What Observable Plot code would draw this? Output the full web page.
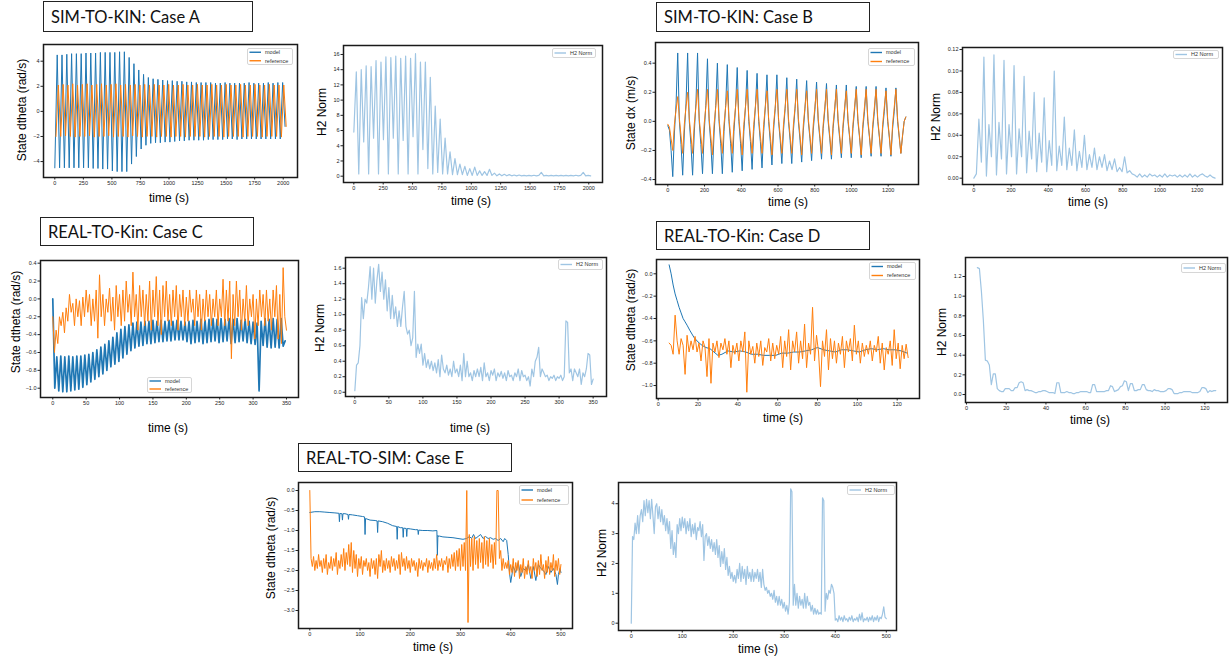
<!DOCTYPE html>
<html><head><meta charset="utf-8">
<script src="https://cdn.jsdelivr.net/npm/d3@7"></script>
<script src="https://cdn.jsdelivr.net/npm/@observablehq/plot@0.6"></script>
<style>
html,body{margin:0;padding:0;background:#fff;}
#wrap{position:relative;width:1229px;height:660px;overflow:hidden;background:#fff;}
.title{position:absolute;border:1.3px solid #222;box-sizing:border-box;font-family:Lato,"Open Sans",sans-serif;font-size:16.5px;font-weight:400;color:#111;padding-left:7px;display:flex;align-items:center;background:#fff;white-space:nowrap;}
.axlab{position:absolute;font-family:"Liberation Sans",Arial,sans-serif;font-size:12px;font-weight:400;color:#000;white-space:nowrap;line-height:1;}
</style></head><body><div id="wrap"></div><script>
// ---------------- DATA ----------------
// Case A (SIM-TO-KIN), uniform time step 21 s
const aStep = 21, aRefStart = 10;
const aModel = [-4.5,4.5,-4.5,4.5,-4.5,4.55,-4.5,4.6,-4.5,4.6,-4.5,4.6,-4.5,4.65,-4.5,4.65,-4.55,4.65,-4.55,4.7,-4.6,4.7,-4.6,4.7,-4.75,4.7,-4.8,4.75,-4.8,4.75,-4.8,4.3,-4.2,3.8,-3.6,3.3,-3.0,2.95,-2.7,2.7,-2.55,2.6,-2.5,2.55,-2.5,2.5,-2.45,2.45,-2.45,2.45,-2.4,2.4,-2.35,2.4,-2.35,2.35,-2.3,2.35,-2.3,2.3,-2.3,2.3,-2.3,2.3,-2.25,2.3,-2.25,2.25,-2.25,2.25,-2.25,2.3,-2.2,2.25,-2.2,2.25,-2.25,2.25,-2.2,2.25,-2.2,2.3,-2.2,2.25,-2.2,2.25,-2.2,2.25,-2.2,2.3,-2.2,2.25,-2.2,2.3,-2.2,2.3,-1.2];
const aRef = [-2.0,2.1,-2.0,2.15,-1.95,2.1,-2.0,2.2,-2.05,2.1,-2.0,2.15,-2.0,2.2,-1.95,2.1,-2.05,2.15,-2.0,2.2,-2.0,2.1,-1.95,2.15,-2.05,2.2,-2.0,2.1,-2.0,2.15,-2.05,2.1,-1.95,2.15,-2.0,2.1,-2.05,2.15,-2.0,2.1,-2.0,2.15,-2.05,2.1,-2.0,2.1,-2.0,2.15,-2.05,2.1,-2.0,2.1,-2.0,2.15,-2.05,2.1,-2.0,2.1,-2.0,2.15,-2.0,2.1,-2.05,2.1,-2.0,2.15,-2.0,2.1,-2.0,2.1,-2.05,2.15,-2.0,2.1,-2.0,2.1,-2.0,2.15,-2.05,2.1,-2.0,2.1,-2.0,2.15,-2.0,2.1,-2.05,2.1,-2.0,2.15,-2.0,2.1,-2.0,2.1,-2.05,2.1,-1.2];
const aH2 = [5.8,13.7,0.3,14.0,4.5,14.5,0.3,14.4,5.0,15.2,0.3,15.0,4.8,15.7,0.3,15.6,5.0,15.8,0.3,15.5,4.7,15.8,0.3,15.5,5.2,16.1,0.3,15.0,3.5,15.0,1.0,13.0,0.3,9.2,0.5,7.5,0.3,5.0,0.3,3.2,0.2,2.3,0.2,1.6,0.2,1.3,0.1,1.0,0.1,1.2,0.1,0.7,0.1,0.6,0.1,0.9,0.1,0.4,0.05,0.3,0.05,0.25,0.05,0.2,0.05,0.15,0.05,0.15,0.05,0.1,0.05,0.1,0.05,0.12,0.05,0.1,0.5,0.05,0.1,0.05,0.1,0.05,0.1,0.05,0.1,0.05,0.1,0.05,0.1,0.05,0.12,0.05,0.1,0.5,0.05,0.1,0.05];

// Case B (SIM-TO-KIN), uniform time step 9 s (state), 13.5 s (H2 norm)
const bStep = 9, bH2Step = 13.5;
const bModel = [-0.03,-0.06,-0.2,
-0.38,-0.08,0.12,0.47,0.0,-0.16, -0.37,-0.08,0.12,0.47,0.0,-0.16, -0.37,-0.08,0.12,0.47,0.0,-0.16,
-0.36,-0.08,0.11,0.43,0.0,-0.15, -0.36,-0.08,0.11,0.40,0.0,-0.15, -0.36,-0.07,0.11,0.39,0.0,-0.15,
-0.35,-0.07,0.10,0.37,0.0,-0.15, -0.34,-0.07,0.10,0.35,0.0,-0.14, -0.33,-0.07,0.10,0.33,0.0,-0.14,
-0.32,-0.07,0.10,0.32,0.0,-0.14, -0.30,-0.06,0.09,0.32,0.0,-0.13, -0.29,-0.06,0.09,0.30,0.0,-0.13,
-0.29,-0.06,0.09,0.29,0.0,-0.13, -0.28,-0.06,0.09,0.28,0.0,-0.12, -0.27,-0.06,0.08,0.27,0.0,-0.12,
-0.26,-0.05,0.08,0.26,0.0,-0.12, -0.26,-0.05,0.08,0.25,0.0,-0.12, -0.25,-0.05,0.08,0.25,0.0,-0.11,
-0.25,-0.05,0.08,0.24,0.0,-0.11, -0.25,-0.05,0.07,0.24,0.0,-0.11, -0.24,-0.05,0.07,0.24,0.0,-0.11,
-0.24,-0.05,0.07,0.23,0.0,-0.11, -0.24,-0.05,0.07,0.23,0.0,-0.11,
-0.22,-0.1,0.0,0.03];
const bRef = [-0.02,-0.04,-0.12,
-0.2,-0.02,0.08,0.17,0.02,-0.1, -0.22,-0.02,0.1,0.2,0.02,-0.1, -0.22,-0.02,0.1,0.22,0.02,-0.1,
-0.22,-0.02,0.1,0.22,0.02,-0.1, -0.23,-0.02,0.1,0.22,0.02,-0.1, -0.22,-0.02,0.1,0.21,0.02,-0.1,
-0.22,-0.02,0.1,0.22,0.02,-0.1, -0.23,-0.02,0.1,0.22,0.02,-0.1, -0.22,-0.02,0.1,0.22,0.02,-0.1,
-0.22,-0.02,0.1,0.21,0.02,-0.1, -0.23,-0.02,0.1,0.22,0.02,-0.1, -0.22,-0.02,0.1,0.22,0.02,-0.1,
-0.22,-0.02,0.1,0.22,0.02,-0.1, -0.23,-0.02,0.1,0.21,0.02,-0.1, -0.22,-0.02,0.1,0.22,0.02,-0.1,
-0.22,-0.02,0.1,0.22,0.02,-0.1, -0.23,-0.02,0.1,0.22,0.02,-0.1, -0.22,-0.02,0.1,0.21,0.02,-0.1,
-0.22,-0.02,0.1,0.22,0.02,-0.1, -0.23,-0.02,0.1,0.22,0.02,-0.1, -0.22,-0.02,0.1,0.22,0.02,-0.1,
-0.22,-0.02,0.1,0.21,0.02,-0.1, -0.23,-0.02,0.1,0.22,0.02,-0.1,
-0.22,-0.1,0.0,0.03];
const bH2 = [0.0,0.004,0.055,0.015, 0.113,0.002,0.05,0.02, 0.115,0.003,0.052,0.018, 0.11,0.004,0.05,0.02,
0.105,0.004,0.046,0.02, 0.095,0.005,0.044,0.018, 0.08,0.006,0.042,0.015, 0.075,0.006,0.035,0.012,
0.10,0.007,0.03,0.012, 0.057,0.008,0.028,0.012, 0.045,0.007,0.025,0.01, 0.04,0.008,0.022,0.01,
0.028,0.008,0.02,0.01, 0.022,0.007,0.016,0.008, 0.018,0.006,0.01,0.006, 0.02,0.005,0.007,0.004,
0.003,0.001,0.004,0.001, 0.003,0.001,0.004,0.002, 0.003,0.001,0.003,0.001, 0.004,0.001,0.003,0.002,
0.003,0.001,0.003,0.001, 0.003,0.001,0.004,0.001, 0.003,0.001,0.003,0.004, 0.002,0.001,0.003,0.001,0.0];

// Case C (REAL-TO-Kin)
const cModelStep = 3, cStep = 2.5;
const cModel = [0.0,-1.0, -0.65,-1.03, -0.64,-1.04, -0.65,-1.04, -0.64,-1.03, -0.65,-1.02, -0.64,-1.01, -0.64,-0.99,
-0.63,-0.96, -0.62,-0.93, -0.6,-0.9, -0.57,-0.87, -0.54,-0.84, -0.51,-0.8, -0.47,-0.76, -0.43,-0.73,
-0.38,-0.7, -0.34,-0.66, -0.31,-0.62, -0.29,-0.58, -0.27,-0.55, -0.26,-0.53, -0.26,-0.52, -0.25,-0.5,
-0.25,-0.5, -0.24,-0.49, -0.25,-0.48, -0.24,-0.48, -0.25,-0.47, -0.24,-0.47, -0.25,-0.46, -0.24,-0.46,
-0.25,-0.46, -0.26,-0.48, -0.25,-0.5, -0.24,-0.49, -0.25,-0.48, -0.23,-0.5, -0.24,-0.49, -0.23,-0.48,
-0.22,-0.47, -0.23,-0.49, -0.22,-0.48, -0.23,-0.47, -0.22,-0.5, -0.23,-0.49, -0.22,-0.48, -0.24,-0.47,
-0.23,-0.49, -0.25,-0.5, -0.26,-0.51, -0.27,-1.03, -0.25,-0.52, -0.22,-0.54, -0.23,-0.55, -0.22,-0.54,
-0.23,-0.55, -0.22,-0.53, -0.47];
const cRef = [-0.2,-0.6,-0.35,-0.5,-0.2,-0.3,-0.15,-0.38,-0.1,-0.25,
0.05,-0.15,-0.05,-0.3,0.0,-0.2,-0.02,-0.3,0.02,-0.2,
0.1,-0.15,0.05,-0.3,0.0,-0.25,0.1,-0.44,0.27,-0.2,
0.05,-0.3,0.0,-0.15,0.12,-0.25,0.02,-0.35,0.15,-0.2,
0.05,-0.3,0.1,-0.25,0.2,-0.15,0.05,-0.3,0.3,-0.2,
0.05,-0.35,0.15,-0.2,0.1,-0.3,0.05,-0.25,0.2,-0.35,
0.1,-0.2,0.25,-0.3,0.1,-0.4,0.15,-0.2,0.2,-0.25,
0.05,-0.3,0.1,-0.2,0.15,-0.35,0.05,-0.2,0.1,-0.3,
0.02,-0.25,0.1,-0.15,0.0,-0.3,0.1,-0.2,0.05,-0.35,
0.0,-0.25,0.1,-0.2,0.05,-0.3,0.0,-0.2,0.1,-0.3,
0.0,-0.2,0.22,-0.3,0.1,-0.25,0.2,-0.67,0.05,-0.3,
0.2,-0.2,0.1,-0.35,0.0,-0.25,0.15,-0.3,0.0,-0.2,
0.05,-0.45,0.0,-0.3,0.1,-0.2,0.05,-0.3,0.1,-0.25,
0.0,-0.35,0.1,-0.2,0.15,-0.45,0.05,-0.5,0.35,-0.2,
-0.35];
const cH2 = [0.02,0.35,0.38,0.6,1.22,0.95,1.2,1.15,1.35,1.62,
1.2,1.6,1.15,1.45,1.65,1.3,1.55,1.2,1.45,1.05,
1.35,0.95,1.25,0.95,1.1,0.85,1.05,0.85,1.1,1.3,
0.85,0.75,0.8,0.6,0.7,1.3,0.45,0.62,0.5,0.62,
0.35,0.5,0.32,0.42,0.3,0.4,0.28,0.38,0.25,0.42,
0.2,0.48,0.3,0.25,0.35,0.22,0.3,0.2,0.4,0.25,
0.3,0.2,0.35,0.15,0.5,0.2,0.4,0.2,0.25,0.15,
0.28,0.2,0.3,0.2,0.32,0.15,0.38,0.2,0.25,0.15,
0.28,0.22,0.3,0.15,0.25,0.2,0.27,0.18,0.25,0.15,
0.28,0.2,0.22,0.15,0.25,0.2,0.3,0.15,0.28,0.2,
0.22,0.15,0.2,0.08,0.3,0.2,0.4,0.45,0.58,0.2,
0.3,0.25,0.2,0.22,0.15,0.2,0.18,0.22,0.15,0.2,
0.18,0.22,0.15,0.2,0.92,0.9,0.25,0.3,0.15,0.3,
0.25,0.2,0.3,0.1,0.25,0.2,0.3,0.5,0.48,0.1,
0.17];

// Case D (REAL-TO-Kin)
const dStart = 5.5, dStep = 1;
const dModel = [[5.5,0.08],[6.5,0.0],[7.5,-0.1],[8.5,-0.18],[9.5,-0.24],[10.5,-0.3],[11.5,-0.35],[12.5,-0.4],[13.5,-0.43],[14.5,-0.46],
[16,-0.51],[18,-0.57],[20,-0.61],[22,-0.64],[24,-0.66],[26,-0.67],[28,-0.7],[30,-0.73],[32,-0.72],[35,-0.69],
[38,-0.7],[41,-0.69],[44,-0.7],[47,-0.72],[50,-0.72],[53,-0.73],[56,-0.73],[59,-0.73],[62,-0.71],[65,-0.71],
[68,-0.7],[71,-0.7],[74,-0.69],[77,-0.68],[80,-0.66],[83,-0.68],[86,-0.69],[89,-0.7],[92,-0.68],[95,-0.68],
[98,-0.69],[101,-0.7],[104,-0.68],[107,-0.67],[110,-0.68],[113,-0.67],[116,-0.68],[119,-0.68],[122,-0.69],[125,-0.71]];
const dRef = [-0.62,-0.64,-0.72,-0.37,-0.6,-0.72,-0.58,-0.64,-0.9,-0.55,
-0.7,-0.6,-0.68,-0.56,-0.7,-0.62,-0.78,-0.6,-0.66,-0.92,
-0.58,-0.98,-0.62,-0.7,-0.6,-0.75,-0.62,-0.68,-0.58,-0.72,
-0.6,-0.84,-0.64,-0.72,-0.62,-0.78,-0.6,-0.7,-0.52,-1.06,
-0.6,-0.72,-0.65,-0.8,-0.62,-0.74,-0.6,-0.82,-0.66,-0.7,
-0.58,-0.78,-0.62,-0.76,-0.64,-0.72,-0.56,-0.84,-0.6,-0.74,
-0.5,-0.86,-0.6,-0.7,-0.52,-0.8,-0.6,-0.76,-0.45,-0.84,
-0.62,-0.72,-0.3,-0.78,-0.55,-0.7,-1.01,-0.6,-0.74,-0.5,
-0.86,-0.58,-0.76,-0.6,-0.8,-0.62,-0.72,-0.56,-0.84,-0.6,
-0.7,-0.58,-0.78,-0.46,-0.72,-0.6,-0.8,-0.62,-0.74,-0.64,
-0.72,-0.6,-0.78,-0.64,-0.7,-0.56,-0.8,-0.62,-0.86,-0.66,
-0.72,-0.6,-0.82,-0.5,-0.76,-0.62,-0.85,-0.64,-0.76,-0.63,
-0.75];
const dH2 = [1.29,1.28,1.05,0.75,0.35,0.34,0.3,0.1,0.21,0.21,
0.06,0.04,0.03,0.03,0.06,0.06,0.06,0.04,0.04,0.07,
0.07,0.12,0.13,0.12,0.04,0.05,0.04,0.04,0.03,0.02,
0.02,0.03,0.03,0.04,0.04,0.03,0.02,0.02,0.02,0.01,
0.12,0.12,0.02,0.02,0.02,0.03,0.02,0.02,0.01,0.01,
0.02,0.02,0.03,0.03,0.03,0.03,0.02,0.02,0.1,0.1,
0.03,0.03,0.03,0.03,0.03,0.04,0.04,0.09,0.08,0.03,
0.04,0.05,0.08,0.09,0.14,0.13,0.04,0.11,0.11,0.04,
0.04,0.05,0.05,0.1,0.1,0.05,0.04,0.04,0.03,0.05,
0.04,0.04,0.03,0.03,0.03,0.04,0.06,0.06,0.05,0.01,
0.01,0.01,0.02,0.02,0.03,0.03,0.03,0.03,0.02,0.02,
0.02,0.02,0.03,0.07,0.07,0.06,0.02,0.04,0.03,0.04,
0.04];

// Case E (REAL-TO-SIM)
const eStep = 2.5;
const eModel = [[0,-0.55],[10,-0.53],[20,-0.53],[30,-0.54],[40,-0.55],[50,-0.56],[58,-0.57],[59,-0.78],[60,-0.57],[62,-0.58],
[64,-0.58],[65,-0.74],[66,-0.58],[70,-0.58],[76,-0.6],[77,-0.72],[78,-0.6],[85,-0.61],[95,-0.63],[105,-0.65],
[109,-0.66],[110,-1.1],[111,-0.7],[120,-0.74],[130,-0.75],[134,-0.76],[135,-1.05],[136,-0.76],[145,-0.78],[155,-0.82],
[165,-0.88],[173,-0.9],[174,-1.22],[175,-0.9],[180,-0.93],[185,-0.93],[186,-1.17],[187,-0.94],[192,-0.95],[193,-1.15],
[194,-0.95],[200,-0.96],[210,-0.98],[215,-0.98],[216,-1.1],[217,-0.99],[225,-1.0],[235,-1.0],[245,-1.01],[253,-1.0],
[254,-1.62],[255,-1.12],[256,-1.15],[258,-1.14],[265,-1.16],[275,-1.17],[285,-1.18],[295,-1.2],[305,-1.22],[312,-1.2],
[318,-1.15],[322,-1.2],[326,-1.1],[330,-1.2],[335,-1.15],[340,-1.1],[345,-1.2],[350,-1.15],[355,-1.2],[360,-1.18],
[365,-1.22],[370,-1.2],[375,-1.25],[380,-1.2],[385,-1.28],[388,-1.2],[392,-1.25],[395,-1.6],[398,-2.1],[400,-2.3],
[405,-1.9],[410,-2.05],[415,-1.8],[420,-2.15],[425,-1.95],[430,-2.0],[435,-1.85],[440,-2.2],[445,-1.9],[450,-2.25],
[455,-1.85],[460,-1.95],[465,-2.0],[470,-2.1],[475,-1.9],[480,-2.05],[485,-1.95],[490,-2.1],[493,-2.35],[495,-2.1],
[498,-1.95],[500,-2.05]];
const eRef = [0.0,-1.7,-1.9,-1.65,-2.0,-1.75,-1.95,-1.6,-1.9,-1.75,
-2.05,-1.7,-1.95,-1.6,-2.1,-1.8,-1.95,-1.65,-2.0,-1.7,
-1.9,-1.55,-2.1,-1.75,-1.95,-1.6,-1.9,-1.45,-2.0,-1.55,
-1.85,-1.35,-1.9,-1.3,-2.05,-1.5,-1.95,-1.6,-2.15,-1.7,
-1.95,-1.65,-2.1,-1.75,-1.9,-1.7,-2.0,-1.8,-2.15,-1.7,
-1.95,-1.75,-2.1,-1.7,-2.2,-1.6,-1.9,-1.5,-2.05,-1.75,
-2.0,-1.7,-1.95,-1.75,-2.05,-1.65,-1.9,-1.7,-2.0,-1.75,
-1.95,-1.6,-2.1,-1.55,-1.9,-1.7,-2.0,-1.65,-1.95,-1.75,
-2.05,-1.7,-1.9,-1.75,-2.0,-1.8,-2.15,-1.7,-1.95,-1.75,
-2.0,-1.8,-1.9,-1.7,-2.05,-1.75,-1.95,-1.8,-2.0,-1.7,
-1.95,-1.6,-2.0,-1.75,-1.9,-1.7,-2.0,-1.75,-1.85,-1.65,
-2.05,-1.7,-1.95,-1.6,-1.9,-1.55,-2.0,-1.5,-1.9,-1.45,
-2.0,-1.35,-1.9,-1.3,-2.0,0.0,-3.3,-1.1,-1.9,-1.2,
-2.0,-1.15,-1.85,-1.25,-1.95,-1.2,-1.8,-1.3,-1.95,-1.15,
-1.85,-1.25,-1.9,-1.2,-1.8,-1.35,-1.95,-1.3,-1.85,0.0,
0.0,-1.7,-1.5,-2.0,-1.7,-1.95,-1.8,-1.95,-1.75,-2.1,
-1.85,-2.05,-1.7,-2.15,-1.8,-2.0,-1.75,-2.2,-1.85,-2.05,
-1.7,-2.2,-1.9,-2.1,-1.75,-2.05,-1.9,-2.2,-1.7,-2.0,
-1.8,-2.15,-1.75,-2.1,-1.6,-2.0,-1.85,-2.2,-1.75,-2.05,
-1.65,-2.1,-1.8,-2.0,-1.6,-2.15,-1.75,-2.0,-1.7,-2.1,
-1.85];
const eH2 = [0.0,2.9,2.8,3.35,3.0,3.6,3.0,3.6,3.8,3.4,
4.1,3.6,4.15,3.7,4.1,3.5,4.15,3.6,3.0,3.9,
4.0,3.5,3.9,3.4,3.8,3.3,3.6,3.1,3.5,3.0,
3.4,2.5,3.1,2.3,2.7,2.2,3.3,3.0,3.5,3.1,
3.55,3.2,3.5,3.0,3.4,3.1,3.5,2.9,3.3,3.0,
3.35,2.8,3.2,3.1,3.4,2.9,3.3,2.1,2.9,3.0,
2.6,2.9,2.5,2.8,2.4,2.7,2.3,2.8,2.2,2.6,
1.9,2.4,2.0,2.5,1.8,2.2,1.6,1.9,1.5,1.7,
1.4,1.6,1.35,1.8,1.5,2.0,1.4,1.9,1.5,1.8,
1.3,1.9,1.5,1.7,1.4,1.8,1.4,1.7,1.5,1.8,
1.4,1.7,1.2,1.8,1.3,1.1,1.2,1.0,1.1,0.9,
1.0,0.8,1.1,0.7,0.9,0.6,0.9,0.6,0.8,0.5,
0.7,0.4,0.6,0.3,0.7,4.5,4.4,0.6,1.3,0.6,
1.0,0.5,0.9,0.6,0.8,0.5,1.0,0.5,0.9,0.6,
0.7,0.4,0.6,0.3,0.5,0.3,0.45,0.3,0.35,0.3,
4.2,4.1,0.4,1.0,0.8,1.1,1.0,1.3,1.2,1.0,
0.1,0.15,0.05,0.25,0.1,0.2,0.05,0.25,0.1,0.15,
0.05,0.2,0.1,0.25,0.05,0.15,0.1,0.2,0.05,0.3,
0.1,0.35,0.05,0.15,0.1,0.2,0.05,0.2,0.1,0.25,
0.05,0.2,0.1,0.25,0.05,0.2,0.15,0.3,0.55,0.2,
0.15];

// Tick values
const ticksA = [0,250,500,750,1000,1250,1500,1750,2000];
const ticksB = [0,200,400,600,800,1000,1200];
const ticksC = [0,50,100,150,200,250,300,350];
const ticksD = [0,20,40,60,80,100,120];
const ticksE = [0,100,200,300,400,500];
const yTicksA = [-4,-2,0,2,4], yTicksAH = [0,2,4,6,8,10,12,14,16];
const yTicksB = [-0.4,-0.2,0,0.2,0.4], yTicksBH = [0,0.02,0.04,0.06,0.08,0.10,0.12];
const yTicksC = [-1.0,-0.8,-0.6,-0.4,-0.2,0,0.2,0.4], yTicksCH = [0,0.2,0.4,0.6,0.8,1.0,1.2,1.4,1.6];
const yTicksD = [-1.0,-0.8,-0.6,-0.4,-0.2,0], yTicksDH = [0,0.2,0.4,0.6,0.8,1.0,1.2];
const yTicksE = [-3.0,-2.5,-2.0,-1.5,-1.0,-0.5,0], yTicksEH = [0,1,2,3,4];

// ---------------- DRAWING ----------------
const BLUE = "#1f77b4", ORANGE = "#ff7f0e", LIGHT = "#9fc5e3";
const wrap = document.getElementById("wrap");
const fmt = n => d => (d < -1e-9 ? "\u2212" : "") + Math.abs(d).toFixed(n);
const TICKFONT = '"Liberation Sans Narrow","Liberation Sans",sans-serif';
const ML = 40, MR = 6, MT = 6, MB = 16;

function uni(vals, t0, dt) { return {data: vals, x: (d, i) => t0 + i * dt, y: d => d}; }
function pairs(vals) { return {data: vals, x: d => d[0], y: d => d[1]}; }

function axisLabel(text, cx, cy, rotated) {
  const d = document.createElement("div");
  d.className = "axlab";
  d.textContent = text;
  d.style.left = cx + "px"; d.style.top = cy + "px";
  d.style.transform = "translate(-50%,-50%)" + (rotated ? " rotate(-90deg)" : "");
  wrap.appendChild(d);
}

function panel(p) {
  const fw = p.fx[1] - p.fx[0], fh = p.fy[1] - p.fy[0];
  const marks = [];
  for (const s of p.series) {
    marks.push(Plot.line(s.data, {x: s.x, y: s.y, stroke: s.color, strokeWidth: s.w || 1, clip: true}));
  }
  marks.push(Plot.frame({stroke: "#1a1a1a", strokeWidth: 1.5}));
  const svg = Plot.plot({
    width: fw + ML + MR, height: fh + MT + MB,
    marginLeft: ML, marginRight: MR, marginTop: MT, marginBottom: MB,
    x: {domain: p.xd, ticks: p.xt, tickFormat: p.xf || fmt(0), tickSize: 2.5, tickPadding: 1.5, label: null},
    y: {domain: p.yd, ticks: p.yt, tickFormat: p.yf || fmt(0), tickSize: 2.5, tickPadding: 1.5, label: null},
    style: {background: "transparent", overflow: "visible", fontSize: "5.5px", fontFamily: TICKFONT, color: "#222"},
    marks
  });
  svg.style.position = "absolute";
  svg.style.left = (p.fx[0] - ML) + "px";
  svg.style.top = (p.fy[0] - MT) + "px";
  wrap.appendChild(svg);
  axisLabel(p.xlabel, p.xl[0], p.xl[1], false);
  axisLabel(p.ylabel, p.yl[0], p.yl[1], true);
}

function legend(box, items) {
  const w = box[2] - box[0], h = box[3] - box[1];
  let s = `<svg width="${w}" height="${h}" style="position:absolute;left:${box[0]}px;top:${box[1]}px;overflow:visible">`;
  s += `<rect x="0.5" y="0.5" width="${w - 1}" height="${h - 1}" rx="1.5" fill="white" fill-opacity="0.85" stroke="#cccccc" stroke-width="0.8"/>`;
  items.forEach((it, k) => {
    const cy = h / items.length * (k + 0.5);
    s += `<line x1="2.5" x2="14" y1="${cy}" y2="${cy}" stroke="${it.color}" stroke-width="1.4"/>`;
    s += `<text x="18" y="${cy}" dy="0.35em" font-size="5.5" font-family='${TICKFONT}' fill="#333">${it.label}</text>`;
  });
  wrap.insertAdjacentHTML("beforeend", s + "</svg>");
}

function title(box, text) {
  const d = document.createElement("div");
  d.className = "title";
  d.style.left = box[0] + "px"; d.style.top = box[1] + "px";
  d.style.width = (box[2] - box[0]) + "px"; d.style.height = (box[3] - box[1]) + "px";
  d.textContent = text;
  wrap.appendChild(d);
}

const ML2 = [{label: "model", color: BLUE}, {label: "reference", color: ORANGE}];
const HL = [{label: "H2 Norm", color: LIGHT}];
const TS = "time (s)";

// Case A
panel({fx: [43, 297], fy: [44, 177], xd: [-99, 2125], yd: [-5.27, 5.33], xt: ticksA, yt: yTicksA,
  series: [{...uni(aModel, 0, aStep), color: BLUE}, {...uni(aRef, aRefStart, aStep), color: ORANGE}],
  xlabel: TS, xl: [169, 198], ylabel: "State dtheta (rad/s)", yl: [22, 110]});
panel({fx: [343, 602], fy: [45, 182], xd: [-88, 2117], yd: [-0.83, 17.18], xt: ticksA, yt: yTicksAH,
  series: [{...uni(aH2, 0, aStep), color: LIGHT, w: 1.2}],
  xlabel: TS, xl: [471, 201], ylabel: "H2 Norm", yl: [322, 112]});
// Case B
panel({fx: [655, 918], fy: [42, 184], xd: [-67, 1365], yd: [-0.434, 0.542], xt: ticksB, yt: yTicksB, yf: fmt(1),
  series: [{...uni(bModel, 0, bStep), color: BLUE}, {...uni(bRef, 0, bStep), color: ORANGE}],
  xlabel: TS, xl: [788, 202], ylabel: "State dx (m/s)", yl: [631, 113]});
panel({fx: [962, 1222], fy: [47, 184], xd: [-61, 1336], yd: [-0.0059, 0.1219], xt: ticksB, yt: yTicksBH, yf: fmt(2),
  series: [{...uni(bH2, 0, bH2Step), color: LIGHT, w: 1.2}],
  xlabel: TS, xl: [1088, 202], ylabel: "H2 Norm", yl: [936, 117]});
// Case C
panel({fx: [40, 298], fy: [260, 397], xd: [-18.4, 368], yd: [-1.104, 0.43], xt: ticksC, yt: yTicksC, yf: fmt(1),
  series: [{...uni(cModel, 0, cModelStep), color: BLUE, w: 1.7}, {...uni(cRef, 0, cStep), color: ORANGE}],
  xlabel: TS, xl: [168, 428], ylabel: "State dtheta (rad/s)", yl: [16, 322]});
panel({fx: [345, 606], fy: [257, 396], xd: [-13.7, 369.6], yd: [-0.055, 1.738], xt: ticksC, yt: yTicksCH, yf: fmt(1),
  series: [{...uni(cH2, 0, cStep), color: LIGHT, w: 1.2}],
  xlabel: TS, xl: [470, 428], ylabel: "H2 Norm", yl: [320, 328]});
// Case D
panel({fx: [656, 919], fy: [259, 398], xd: [-0.85, 131.2], yd: [-1.116, 0.128], xt: ticksD, yt: yTicksD, yf: fmt(1),
  series: [{...pairs(dModel), color: BLUE}, {...uni(dRef, dStart, dStep), color: ORANGE}],
  xlabel: TS, xl: [783, 418], ylabel: "State dtheta (rad/s)", yl: [631, 320]});
panel({fx: [965, 1227], fy: [257, 402], xd: [-0.5, 131.4], yd: [-0.081, 1.393], xt: ticksD, yt: yTicksDH, yf: fmt(1),
  series: [{...uni(dH2, dStart, dStep), color: LIGHT, w: 1.2}],
  xlabel: TS, xl: [1090, 420], ylabel: "H2 Norm", yl: [942, 332]});
// Case E
panel({fx: [298, 572], fy: [482, 628], xd: [-22.5, 523], yd: [-3.45, 0.2], xt: ticksE, yt: yTicksE, yf: fmt(1),
  series: [{...pairs(eModel), color: BLUE}, {...uni(eRef, 0, eStep), color: ORANGE}],
  xlabel: TS, xl: [433, 647], ylabel: "State dtheta (rad/s)", yl: [271, 548]});
panel({fx: [618, 896], fy: [482, 630], xd: [-25, 520], yd: [-0.245, 4.71], xt: ticksE, yt: yTicksEH,
  series: [{...uni(eH2, 0, eStep), color: LIGHT, w: 1.2}],
  xlabel: TS, xl: [758, 649], ylabel: "H2 Norm", yl: [602, 553]});

// Legends
legend([247, 48, 293, 65], ML2);
legend([552, 48, 596, 58], HL);
legend([868, 48, 915, 66], ML2);
legend([1173, 50, 1219, 59], HL);
legend([147, 377, 192, 393], ML2);
legend([558, 259, 603, 270], HL);
legend([869, 262, 916, 280], ML2);
legend([1181, 263, 1226, 273], HL);
legend([519, 485, 569, 505], ML2);
legend([847, 485, 895, 495], HL);

// Titles
title([43, 1, 253, 32], "SIM-TO-KIN: Case A");
title([656, 2, 870, 32], "SIM-TO-KIN: Case B");
title([40, 217, 254, 246], "REAL-TO-Kin: Case C");
title([656, 221, 870, 250], "REAL-TO-Kin: Case D");
title([298, 443, 512, 472], "REAL-TO-SIM: Case E");
</script></body></html>
